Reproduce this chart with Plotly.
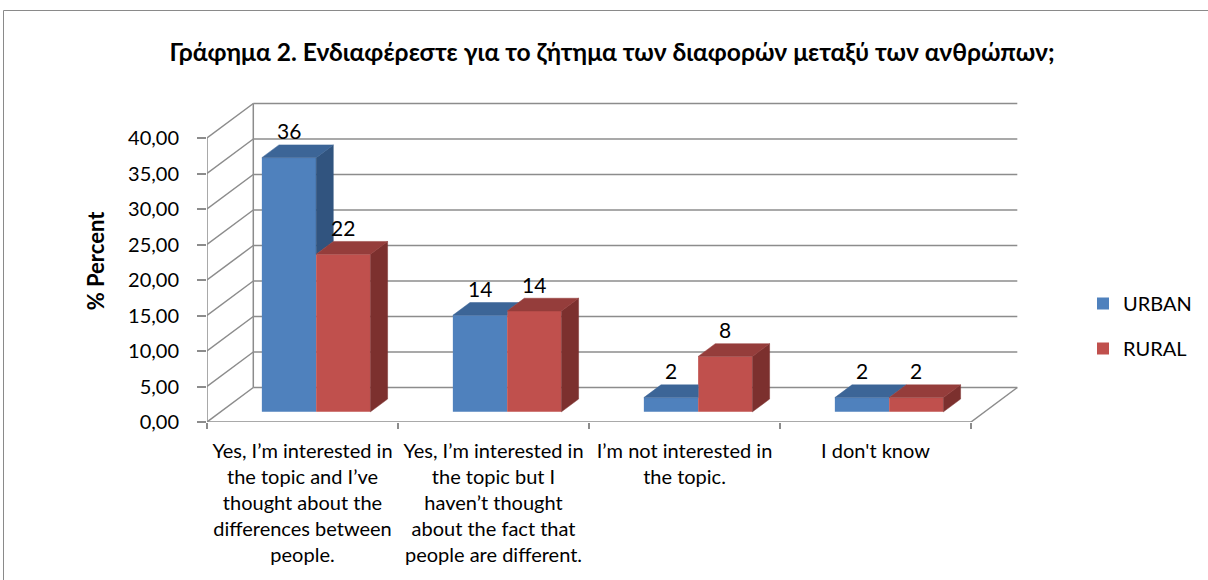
import plotly.graph_objects as go

# ---------------- data ----------------
categories = [
    "Yes, I’m interested in<br>the topic and I’ve<br>thought about the<br>differences between<br>people.",
    "Yes, I’m interested in<br>the topic but I<br>haven’t thought<br>about the fact that<br>people are different.",
    "I’m not interested in<br>the topic.",
    "I don't know",
]
series_names = ["URBAN", "RURAL"]
urban = [35.8, 13.6, 2.0, 2.0]
rural = [22.2, 14.2, 7.8, 2.0]
y_ticks = [0, 5, 10, 15, 20, 25, 30, 35, 40]
title_text = "Γράφημα 2. Ενδιαφέρεστε για το ζήτημα των διαφορών μεταξύ των ανθρώπων;"
y_title = "% Percent"

# ---------------- styling / geometry ----------------
W, H = 1208, 580
L_PX = 207          # pixel of the front-left edge
PX_CAT = 191.0      # pixels per category
PX_UNIT = 7.1       # pixels per value unit
Y0_PX = 422         # pixel of value 0 (front)
T_PX = 100
PLOT_W = 812
PLOT_H = Y0_PX - T_PX

DX = 46.3 / PX_CAT   # full floor depth, x (category units)
DY = 34.5 / PX_UNIT  # full floor depth, y (value units)
F0 = 0.295           # depth fraction of bar front
BD = 0.37            # bar depth fraction
BW = 54.3 / PX_CAT   # bar width (category units)

FONT = "Lato, 'Open Sans', sans-serif"
GRID = "#8c8c8c"
colors = {
    "URBAN": dict(front="#4F81BD", top="#3C6597", side="#31547F"),
    "RURAL": dict(front="#C0504D", top="#953D3B", side="#7C302E"),
}

n = len(categories)
fx, fy = F0 * DX, F0 * DY
ddx, ddy = BD * DX, BD * DY
x_left, x_right = -0.5, n - 0.5
xr_range = [-0.5, -0.5 + PLOT_W / PX_CAT]
yr_range = [0, PLOT_H / PX_UNIT]


def px2paper_x(p):
    return (p - L_PX) / PLOT_W


def px2paper_y(p):
    return (Y0_PX - p) / PLOT_H


fig = go.Figure()

# ---------------- walls & grid (shapes in data coords) ----------------
shapes = []
line_style = dict(color=GRID, width=1.5)
for v in y_ticks:
    shapes.append(dict(type="line", xref="x", yref="y", layer="below",
                       x0=x_left + DX, x1=x_right + DX, y0=v + DY, y1=v + DY, line=line_style))
    shapes.append(dict(type="line", xref="x", yref="y", layer="below",
                       x0=x_left, x1=x_left + DX, y0=v, y1=v + DY, line=line_style))
shapes.append(dict(type="line", xref="x", yref="y", layer="below",
                   x0=x_left + DX, x1=x_left + DX, y0=DY, y1=y_ticks[-1] + DY, line=line_style))
shapes.append(dict(type="line", xref="x", yref="y", layer="below",
                   x0=x_left, x1=x_left, y0=0, y1=y_ticks[-1], line=line_style))
shapes.append(dict(type="line", xref="x", yref="y", layer="below",
                   x0=x_left, x1=x_right, y0=0, y1=0, line=line_style))
shapes.append(dict(type="line", xref="x", yref="y", layer="below",
                   x0=x_right, x1=x_right + DX, y0=0, y1=DY, line=line_style))
# chart border
shapes.append(dict(type="rect", xref="paper", yref="paper", layer="below",
                   x0=px2paper_x(3.5), x1=px2paper_x(1212), y0=px2paper_y(600), y1=px2paper_y(10.5),
                   line=dict(color="#8a8a8a", width=1), fillcolor="rgba(0,0,0,0)"))

# ---------------- front faces (bars) ----------------
xs = [i + fx for i in range(n)]
for name, vals, off in [(series_names[0], urban, -BW), (series_names[1], rural, 0.0)]:
    fig.add_trace(go.Bar(
        x=xs, y=vals, base=[fy] * n, width=[BW] * n, offset=[off] * n,
        name=name, marker=dict(color=colors[name]["front"], line=dict(width=0)),
        legendgroup=name,
        hovertemplate=name + ": %{y:.1f}<extra></extra>",
    ))


def poly(pts, color):
    px = [p[0] for p in pts] + [pts[0][0]]
    py = [p[1] for p in pts] + [pts[0][1]]
    fig.add_trace(go.Scatter(x=px, y=py, mode="lines", fill="toself", fillcolor=color,
                             line=dict(color=color, width=0.5), hoverinfo="skip", showlegend=False))


# ---------------- top / side faces with occlusion ----------------
for i in range(n):
    u, r = urban[i], rural[i]
    xl = i - BW + fx
    xm = i + fx
    xe = i + BW + fx
    cu, cr = colors[series_names[0]], colors[series_names[1]]
    if u > r:
        poly([(xm, r + fy), (xm, u + fy), (xm + ddx, u + fy + ddy), (xm + ddx, r + fy + ddy)], cu["side"])
    if r <= u:
        poly([(xl, u + fy), (xm, u + fy), (xm + ddx, u + fy + ddy), (xl + ddx, u + fy + ddy)], cu["top"])
    else:
        h = min(r - u, ddy)
        xs_ = xm + (ddy - h) / ddy * ddx
        poly([(xl, u + fy), (xm, u + fy), (xm, u + fy + h), (xs_, u + fy + ddy), (xl + ddx, u + fy + ddy)], cu["top"])
    poly([(xe, fy), (xe, r + fy), (xe + ddx, r + fy + ddy), (xe + ddx, fy + ddy)], cr["side"])
    poly([(xm, r + fy), (xe, r + fy), (xe + ddx, r + fy + ddy), (xm + ddx, r + fy + ddy)], cr["top"])

# ---------------- data labels ----------------
annotations = []
for i in range(n):
    for vals, cx in [(urban, i + fx - BW / 2), (rural, i + fx + BW / 2)]:
        v = vals[i]
        annotations.append(dict(x=cx, y=v + fy + ddy, xref="x", yref="y", text=f"{v:.0f}",
                                showarrow=False, yanchor="middle", yshift=14,
                                font=dict(family=FONT, size=21, color="#000")))

fig.update_layout(
    width=W, height=H,
    template="none",
    paper_bgcolor="white", plot_bgcolor="rgba(0,0,0,0)",
    margin=dict(l=L_PX, r=W - L_PX - PLOT_W, t=T_PX, b=H - Y0_PX, pad=0, autoexpand=False),
    separators=",.",
    barmode="overlay",
    shapes=shapes,
    annotations=annotations,
    title=dict(text="<b>" + title_text + "</b>", x=612 / W, xref="container", xanchor="center",
               y=1 - 52 / H, yref="container", yanchor="middle",
               font=dict(family=FONT, size=24.6, color="#000")),
    showlegend=True,
    legend=dict(x=px2paper_x(1083), y=px2paper_y(284), xanchor="left", yanchor="top",
                font=dict(family=FONT, size=20, color="#000"), tracegroupgap=16,
                bgcolor="rgba(0,0,0,0)", itemsizing="constant"),
    xaxis=dict(range=xr_range, showgrid=False, zeroline=False, showline=False,
               tickmode="array", tickvals=list(range(n)), ticktext=categories,
               ticks="", tickfont=dict(family=FONT, size=20, color="#000"),
               ticklabelstandoff=15, automargin=False, fixedrange=True,
               minor=dict(tickvals=[k - 0.5 for k in range(n + 1)], ticks="outside",
                          ticklen=6, tickcolor=GRID, tickwidth=1.5, showgrid=False)),
    yaxis=dict(range=yr_range, showgrid=False, zeroline=False, showline=False,
               tickmode="array", tickvals=y_ticks, tickformat=".2f",
               ticks="outside", ticklen=9, tickcolor=GRID, tickwidth=1.5,
               tickfont=dict(family=FONT, size=20, color="#000"), ticklabelstandoff=14,
               automargin=False, fixedrange=True,
               title=dict(text="<b>" + y_title + "</b>", standoff=17,
                          font=dict(family=FONT, size=22, color="#000"))),
)

fig.write_html("out.html", config={"displayModeBar": False},
               post_script="document.body.style.margin='0px';")
